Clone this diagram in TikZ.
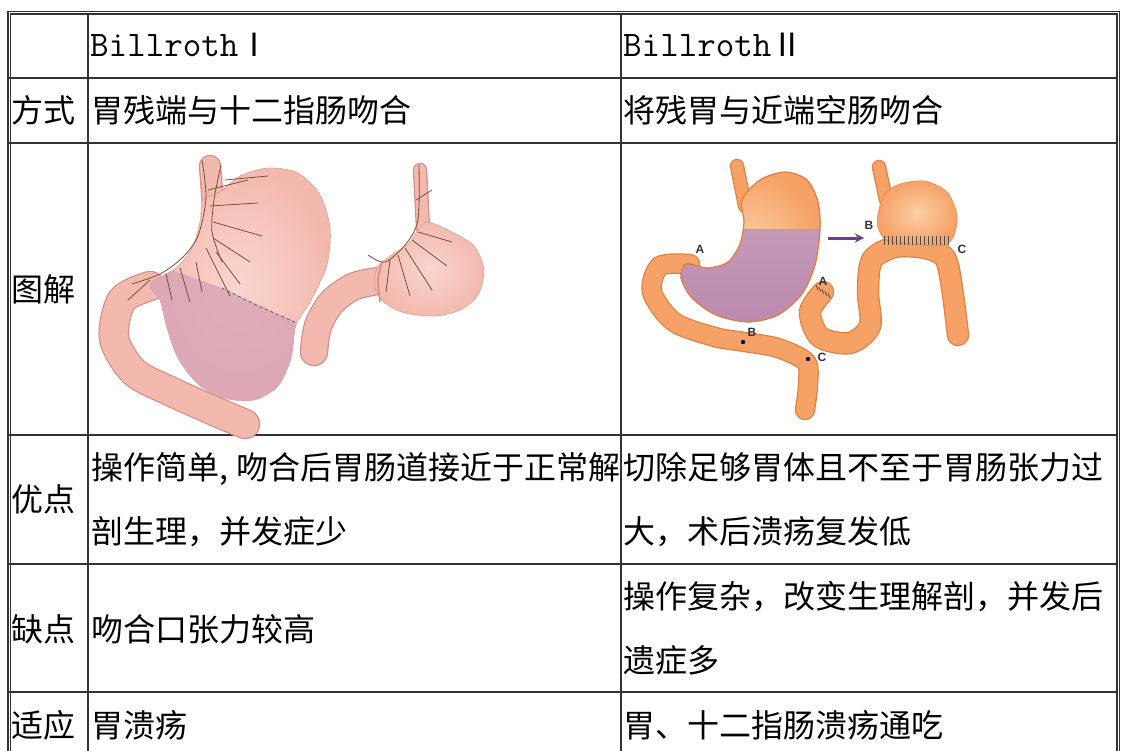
\documentclass[tikz,border=0pt]{standalone}
\usepackage{fontspec}
\setmainfont{Liberation Serif}
\setsansfont{Liberation Sans}
\newfontfamily\cjk{Noto Sans CJK SC}
\newcommand\billfont{\ttfamily\addfontfeatures{FakeStretch=0.86}\fontsize{36bp}{40bp}\selectfont}
\definecolor{rulegray}{HTML}{333333}
\definecolor{skin}{HTML}{F3B9AE}
\definecolor{skinlight}{HTML}{F9D6CF}
\definecolor{skinline}{HTML}{D68C85}
\definecolor{antrum}{HTML}{D8A3B6}
\definecolor{nerve}{HTML}{7A5038}
\definecolor{gut}{HTML}{F6A165}
\definecolor{gutlight}{HTML}{FBCFA6}
\definecolor{gutline}{HTML}{E07E3E}
\definecolor{resect}{HTML}{BC8AAE}
\definecolor{arrowpurple}{HTML}{6B3F8C}

\begin{document}
\begin{tikzpicture}[x=1bp, y=-1bp,
    rule/.style={draw=rulegray, line width=2.4bp},
    frame/.style={draw=rulegray, double=white, line width=1.2bp, double distance=1bp},
    cell/.style={anchor=west, inner sep=0pt, align=left, font=\cjk\fontsize{32bp}{64bp}\selectfont},
    tag/.style={inner sep=0pt, text=rulegray, font=\sffamily\bfseries\fontsize{12bp}{12bp}\selectfont},
    pinktube/.style={draw=skinline, double=skin, line width=1.2bp, double distance=#1, line cap=round},
    guttube/.style={draw=gutline, double=gut, line width=1.2bp, double distance=#1, line cap=round},
    nervelines/.style={draw=nerve, line width=0.8bp},
    suture/.style={draw=black!70, line width=0.8bp}]
    \useasboundingbox (0,0) rectangle (1126,751);

    \draw[frame] (1118,751) -- (1118,13) -- (9,13) -- (9,751);
    \draw[rule] (88,13) -- (88,751);
    \draw[rule] (621,13) -- (621,751);
    \foreach \y in {78,143,435,564,692}
        \draw[rule] (9,\y) -- (1118,\y);

    \node[cell] (hd1) at (90,45) {{\billfont Billroth}Ⅰ};
    \node[cell] (hd2) at (623,45) {{\billfont Billroth}Ⅱ};
    \node[cell] (way) at (11,110) {方式};
    \node[cell] (way1) at (91,110) {胃残端与十二指肠吻合};
    \node[cell] (way2) at (623,110) {将残胃与近端空肠吻合};
    \node[cell] (fig) at (11,289) {图解};
    \node[cell] (pro) at (11,499) {优点};
    \node[cell] (pro1) at (91,500) {操作简单,\kern8bp 吻合后胃肠道接近于正常解\\剖生理，并发症少};
    \node[cell] (pro2) at (623,500) {切除足够胃体且不至于胃肠张力过\\大，术后溃疡复发低};
    \node[cell] (con) at (11,629) {缺点};
    \node[cell] (con1) at (91,629) {吻合口张力较高};
    \node[cell] (con2) at (623,628) {操作复杂，改变生理解剖，并发后\\遗症多};
    \node[cell] (ind) at (11,725) {适应};
    \node[cell] (ind1) at (91,725) {胃溃疡};
    \node[cell] (ind2) at (623,725) {胃、十二指肠溃疡通吃};

    \draw[pinktube=28bp] plot[smooth] coordinates {(150,286) (122,300) (114,338) (134,372) (172,392) (212,410) (245,424)};
    \draw[pinktube=20bp] (210,166) -- (213,205);
    \shadedraw[draw=skinline, inner color=skinlight, outer color=skin] plot[smooth cycle] coordinates {(220,192) (240,176) (268,168) (298,173) (320,195) (330,228) (327,265) (310,302) (296,325) (291,358) (278,386) (254,400) (224,398) (198,384) (178,358) (167,328) (160,300) (150,284) (176,268) (192,248) (200,222) (203,200)};
    \begin{scope}
        \clip plot[smooth cycle] coordinates {(220,192) (240,176) (268,168) (298,173) (320,195) (330,228) (327,265) (310,302) (296,325) (291,358) (278,386) (254,400) (224,398) (198,384) (178,358) (167,328) (160,300) (150,284) (176,268) (192,248) (200,222) (203,200)};
        \fill[antrum, opacity=0.8] (150,262) -- (222,288) -- (298,323) -- (345,330) -- (345,430) -- (140,430) -- cycle;
    \end{scope}
    \draw[black!60, dashed, line width=0.8bp] (222,288) -- (258,306) -- (297,323);
    \draw[nervelines] plot[smooth] coordinates {(202,160) (206,198) (198,236) (182,258) (160,274) (132,284)};
    \draw[nervelines] plot[smooth] coordinates {(221,165) (214,200) (212,232) (222,262)};
    \draw[nervelines] (208,190) -- (248,180) (210,206) -- (258,203) (213,222) -- (262,236)
        (213,238) -- (250,262) (216,252) -- (240,284) (196,262) -- (202,292) (180,268) -- (190,302)
        (166,274) -- (172,300) (150,280) -- (128,300) (225,180) -- (268,176) (206,248) -- (230,296);

    \draw[pinktube=26bp] plot[smooth] coordinates {(385,280) (355,286) (332,302) (318,326) (314,352)};
    \draw[pinktube=12bp] (420,170) -- (423,228);
    \shadedraw[draw=skinline, inner color=skinlight, outer color=skin] plot[smooth cycle] coordinates {(428,222) (452,232) (474,246) (484,270) (478,295) (460,310) (435,316) (405,313) (385,303) (375,288) (377,268) (390,256) (408,244) (418,230)};
    \draw[skinline, line width=1.5bp] plot[smooth] coordinates {(382,262) (378,280) (380,302)};
    \draw[nervelines] plot[smooth] coordinates {(419,165) (418,220) (405,245) (385,262) (368,255)};
    \draw[nervelines] (418,232) -- (452,242) (412,240) -- (447,266) (405,248) -- (432,290)
        (398,255) -- (410,296) (390,260) -- (386,292) (416,200) -- (432,190);

    \draw[guttube=18bp] plot[smooth] coordinates {(690,264) (660,266) (652,292) (674,322) (715,337) (745,342) (778,348) (806,362) (808,385) (805,410)};
    \draw[guttube=12bp] (737,166) -- (745,206);
    \shadedraw[draw=gutline, top color=resect!80, bottom color=resect] plot[smooth cycle] coordinates {(742,200) (760,180) (785,172) (807,180) (818,202) (820,230) (815,265) (802,294) (778,315) (748,322) (716,315) (692,298) (681,278) (686,264) (708,268) (728,262) (740,244) (744,222)};
    \begin{scope}
        \clip (680,150) rectangle (830,228);
        \shade[inner color=gutlight, outer color=gut] plot[smooth cycle] coordinates {(742,200) (760,180) (785,172) (807,180) (818,202) (820,230) (815,265) (802,294) (778,315) (748,322) (716,315) (692,298) (681,278) (686,264) (708,268) (728,262) (740,244) (744,222)};
    \end{scope}
    \draw[gutline, line width=1.2bp] plot[smooth cycle] coordinates {(742,200) (760,180) (785,172) (807,180) (818,202) (820,230) (815,265) (802,294) (778,315) (748,322) (716,315) (692,298) (681,278) (686,264) (708,268) (728,262) (740,244) (744,222)};

    \draw[guttube=20bp] plot[smooth] coordinates {(823,292) (810,312) (820,337) (850,343) (870,326) (868,292) (872,260) (895,247) (925,248) (945,258) (952,288) (958,335)};
    \draw[guttube=12bp] (879,167) -- (886,200);
    \shadedraw[draw=gutline, inner color=gutlight, outer color=gut] plot[smooth cycle] coordinates {(884,195) (900,184) (925,181) (947,192) (957,215) (953,238) (940,246) (912,244) (886,240) (877,222)};
    \foreach \x in {884,888,...,948}
        \draw[suture] (\x,236) -- (\x,245);
    \foreach \t in {0,...,4}
        \draw[suture] (816+\t*3,285+\t*2) -- ++(2,5);

    \coordinate (dotB) at (743,342);
    \coordinate (dotC) at (808,359);
    \fill[black] (dotB) circle (2.2bp) (dotC) circle (2.2bp);
    \node[tag] (tagA) at (700,249) {A};
    \node[tag] (tagB) at (752,332) {B};
    \node[tag] (tagC) at (822,357) {C};
    \node[tag] (tagA2) at (823,281) {A};
    \node[tag] (tagB2) at (869,225) {B};
    \node[tag] (tagC2) at (962,249) {C};
    \coordinate (arrS) at (828,238);
    \coordinate (arrE) at (864,238);
    \draw[->, >=stealth, line width=3bp, arrowpurple] (arrS) -- (arrE);
\end{tikzpicture}
\end{document}
